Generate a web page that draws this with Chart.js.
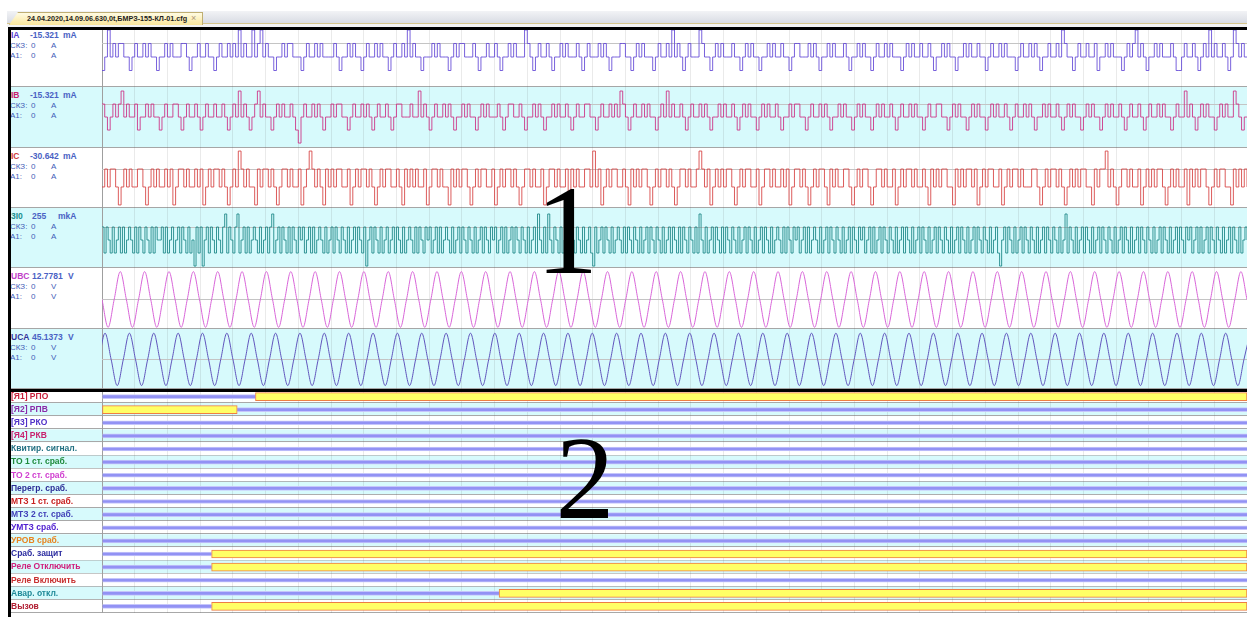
<!DOCTYPE html>
<html>
<head>
<meta charset="utf-8">
<title>24.04.2020,14.09.06.630,0t,БМРЗ-155-КЛ-01.cfg</title>
<script src="https://cdn.jsdelivr.net/npm/chart.js"></script>
<style>
  body { margin: 0; width: 1247px; height: 617px; overflow: hidden; position: relative; background: #fff;
         font-family: "Liberation Sans", Arial, sans-serif; }
  div, canvas { position: absolute; }
  .l1 { font-size: 8.5px; font-weight: bold; line-height: 10px; white-space: pre; z-index: 2; }
  .l2 { font-size: 8px; line-height: 10px; white-space: pre; z-index: 2; }
  .big { font-family: "Liberation Serif", serif; line-height: 1; color: #000; z-index: 10; width: 100px; text-align: center; }
</style>
</head>
<body>
<div style="left:7px;top:11px;width:1240px;height:12px;background:linear-gradient(#f2f3f6,#d9dce4);"></div>
<div style="left:7px;top:23px;width:1240px;height:1px;background:#d6c58c;"></div>
<div style="left:7px;top:24px;width:1240px;height:3px;background:#f3f3f3;"></div>
<div style="left:9px;top:12px;width:192px;height:12px;background:linear-gradient(#fffbe2,#f9e69c);border:1px solid #bfae72;border-bottom:none;clip-path:polygon(9px 0,100% 0,100% 100%,0 100%);"></div>
<div style="left:27px;top:13px;font-size:7.2px;font-weight:bold;line-height:11px;color:#1c1c1c;white-space:pre;">24.04.2020,14.09.06.630,0t,БМРЗ-155-КЛ-01.cfg</div>
<div style="left:191px;top:12px;font-size:9px;line-height:12px;color:#b09878;">×</div>

<div style="left:8px;top:27px;width:1239px;height:3px;background:#000;z-index:9;"></div>
<div style="left:8px;top:27px;width:2.5px;height:590px;background:#000;z-index:9;"></div>
<div style="left:8px;top:389px;width:1239px;height:3px;background:#000;z-index:9;"></div>
<div style="left:102px;top:30px;width:1px;height:360px;background:#a9a9a9;z-index:1;"></div>

<div class="big" style="left:517px;top:168px;font-size:126px;">1</div>
<div class="big" style="left:535px;top:420px;font-size:118px;">2</div>

<script>
const recordLength = 940;   // ms across the plot
const gridDivisions = 35;

const analogNames = ['IA', 'IB', 'IC', '3I0', 'UBC', 'UCA'];
const analogReadings = ['-15.321', '-15.321', '-30.642', '255', '12.7781', '45.1373'];
const analogUnits = ['mA', 'mA', 'mA', 'mkA', 'V', 'V'];
const rmsValues = ['0', '0', '0', '0', '0', '0'];
const a1Values = ['0', '0', '0', '0', '0', '0'];
const rmsUnits = ['A', 'A', 'A', 'A', 'V', 'V'];

// currents in ADC steps, evenly spaced over the record
const iaSteps = [
  -1,0,2,0,1,0,1,1,0,0,-1,0,1,0,0,1,0,1,0,0,
  -1,0,0,1,0,1,0,0,0,1,1,0,-1,0,0,1,0,0,1,0,
  0,-1,0,1,0,0,1,0,1,0,2,0,1,0,0,2,0,1,2,0,
  1,0,0,-1,0,0,1,0,1,1,0,0,0,-1,0,1,0,0,1,0,
  1,0,0,0,0,1,0,-1,0,0,1,0,1,0,0,-1,0,1,0,0,
  1,0,1,0,0,-1,0,1,0,0,1,0,2,0,1,0,0,-1,0,0,
  0,1,0,1,0,0,0,-1,0,1,0,1,1,0,0,0,1,0,-1,0,
  0,1,0,0,1,0,-1,0,0,1,0,1,0,0,0,2,1,0,-1,0,
  1,0,0,1,0,-1,0,0,1,0,1,0,0,0,1,0,-1,0,1,0,
  0,0,1,0,1,0,-1,0,0,0,1,1,0,0,-1,0,1,0,1,0,
  0,0,-1,0,1,0,0,1,0,2,0,1,0,-1,0,1,0,0,0,2,
  1,0,0,-1,0,1,0,1,0,0,0,1,0,0,-1,0,1,0,1,0,
  0,-1,0,0,1,0,1,0,0,1,0,0,-1,0,1,1,0,0,0,1,
  0,1,0,-1,0,0,1,0,1,0,0,0,1,0,-1,0,0,1,0,1,
  0,0,-1,0,1,0,0,1,0,1,0,0,0,-1,0,1,0,1,0,0,
  1,0,0,1,0,-1,0,0,1,0,1,0,0,-1,0,0,1,0,1,0,
  0,1,0,0,-1,0,1,0,0,1,0,1,0,0,0,-1,0,1,0,0,
  1,0,1,0,-1,0,0,1,0,0,1,0,2,1,0,0,-1,0,1,0,
  0,1,0,0,1,-1,0,0,1,0,1,0,0,0,-1,0,1,0,1,2,
  0,1,0,-1,0,0,1,0,1,0,0,0,1,0,-1,-1,0,1,0,0,
  1,0,-1,0,1,0,2,0,1,0,0,1,0,-1,0,2,1,0,1,0,0
];
const ibSteps = [
  1,0,-1,0,1,0,1,2,0,1,0,0,1,-1,0,0,1,0,1,0,
  0,-1,0,1,0,0,1,1,0,-1,0,1,0,0,1,0,-1,0,1,0,
  0,1,0,0,1,0,-1,0,1,0,2,0,1,0,-1,0,1,2,0,1,
  0,0,-1,0,1,0,1,0,0,1,0,-1,-2,0,1,0,0,1,0,1,
  0,-1,0,0,1,0,1,1,0,0,-1,0,1,0,0,1,0,1,0,-1,
  0,1,0,0,1,0,-1,0,1,1,0,0,0,1,0,0,2,0,1,0,
  -1,0,1,0,0,1,0,1,0,-1,0,0,1,0,1,0,0,-1,0,1,
  0,1,0,0,0,1,0,-1,0,1,1,0,0,1,0,-1,0,0,1,0,
  1,0,-1,0,0,1,0,1,0,0,1,0,-1,0,1,0,0,1,1,0,
  0,-1,0,1,0,0,1,0,1,0,2,1,0,-1,0,1,0,0,1,0,
  1,0,0,-1,0,1,0,2,0,1,0,0,1,0,-1,0,1,0,0,1,
  0,1,0,-1,0,0,1,0,1,0,0,1,0,-1,0,1,0,1,0,0,
  -1,0,1,0,1,0,0,1,0,-1,0,0,1,0,1,1,0,0,-1,0,
  1,0,0,1,0,1,0,-1,0,0,1,0,1,0,0,-1,0,1,0,1,
  0,0,-1,0,1,0,1,0,0,1,0,-1,0,1,0,0,1,0,1,0,
  0,-1,0,1,0,0,1,1,0,0,-1,0,1,0,1,0,0,-1,0,1,
  0,1,0,0,-1,0,1,0,1,0,0,1,0,-1,0,1,0,0,1,0,
  1,0,-1,0,0,1,0,1,0,0,1,0,-1,0,1,0,1,0,0,-1,
  0,1,0,1,0,0,-1,0,1,0,1,0,0,1,0,-1,0,1,0,0,
  1,0,-1,0,1,0,0,1,0,1,0,0,-1,0,1,0,0,2,0,1,
  0,-1,0,1,0,1,0,0,-1,0,1,0,1,0,0,2,1,0,-1,0,0
];
const icSteps = [
  0,1,0,1,1,0,-1,0,1,0,1,0,0,1,1,0,-1,0,1,0,
  1,0,0,1,0,1,-1,0,1,1,0,1,0,0,1,0,1,-1,0,1,
  0,1,1,0,1,0,-1,0,1,0,2,1,0,1,0,0,-1,1,0,1,
  1,0,1,0,-1,0,1,1,0,1,0,0,1,-1,0,1,2,1,0,1,
  0,-1,1,0,1,0,1,1,0,0,1,-1,0,1,0,1,1,0,1,0,
  -1,0,1,0,1,1,0,0,1,0,-1,1,0,1,0,1,0,0,1,-1,
  0,1,1,0,1,0,0,-1,1,0,1,0,1,1,0,-1,0,1,0,1,
  1,0,0,1,-1,0,1,0,1,1,0,1,0,-1,0,1,1,0,1,0,
  0,1,-1,0,1,1,0,1,0,0,1,-1,1,0,1,0,0,1,1,0,
  2,0,1,-1,0,1,0,1,1,0,0,1,0,-1,1,0,1,0,1,1,
  0,-1,0,1,0,1,1,0,1,0,-1,0,1,1,0,1,0,0,1,2,
  1,0,1,-1,0,1,0,1,0,1,1,0,-1,0,1,0,1,1,0,0,
  1,-1,0,1,1,0,1,0,0,1,0,1,-1,0,1,1,0,1,0,-1,
  0,1,0,1,1,0,-1,1,0,1,0,0,1,1,0,-1,0,1,0,1,
  1,0,-1,0,1,1,0,1,0,0,1,-1,0,1,0,1,1,0,1,0,
  0,1,0,-1,1,0,1,0,1,1,0,0,-1,1,0,1,0,1,1,0,
  1,-1,0,1,0,1,1,0,0,1,-1,0,1,0,1,1,0,1,0,0,
  0,1,1,0,-1,0,1,0,1,1,0,1,0,-1,0,1,0,1,0,1,
  1,0,0,-1,1,0,1,1,2,0,1,0,-1,0,1,1,0,1,0,0,
  1,-1,0,1,0,1,0,1,1,0,-1,0,1,0,1,0,0,1,-1,1,
  0,1,0,1,1,0,-1,0,1,0,1,1,0,0,-1,1,0,1,0,1,0
];
const i0Steps = [
  1,-1,1,0,-1,1,-1,0,1,-1,1,-1,0,1,0,-1,1,-1,1,0,
  -1,1,0,-1,1,-1,1,0,0,1,-1,1,-1,0,1,-1,0,1,-1,1,
  0,-1,1,-1,0,-2,1,-1,1,-2,0,1,-1,1,0,-1,1,0,-1,1,
  2,-1,1,0,-1,1,2,-1,0,1,-1,1,-1,0,1,0,-1,1,-1,0,
  1,-1,1,2,-1,0,1,-1,1,0,-1,1,-1,1,0,-1,1,0,1,-1,
  0,1,-1,1,-1,0,1,0,-1,1,-1,0,1,-1,1,0,-1,1,0,-1,
  1,-1,0,1,-1,1,0,-1,1,-2,0,1,-1,1,0,-1,1,-1,0,1,
  -1,0,1,-1,1,0,-1,1,-1,0,1,0,-1,1,-1,1,0,-1,1,0,
  1,-1,0,1,-1,1,-1,0,1,0,-1,1,-1,0,1,-1,1,0,-1,1,
  0,-1,1,-1,0,1,-1,1,0,-1,1,0,1,-1,0,1,-1,1,-1,0,
  1,-1,1,0,-1,1,0,-1,1,-1,0,1,-1,2,0,-1,1,-1,2,0,
  -1,1,0,-1,1,-1,0,1,-1,1,0,-1,1,0,-1,1,-1,0,1,-1,
  -2,1,-1,0,1,-1,1,0,-1,1,-1,0,1,0,-1,1,-1,1,0,-1,
  1,0,-1,1,-1,0,1,-1,1,0,-1,1,0,-1,1,-1,0,1,-1,1,
  0,-1,1,-1,1,0,-1,1,0,-1,1,-1,2,0,-1,1,-1,0,1,-1,
  1,0,-1,1,-1,1,0,-1,1,0,-1,1,-1,0,1,-1,1,0,-1,1,
  -1,0,1,-1,1,0,-1,1,-1,0,1,0,-1,1,-1,1,0,-1,1,0,
  1,-1,0,1,-1,1,-1,0,1,0,-1,1,-1,0,1,-1,1,0,-1,1,
  0,-1,1,-1,0,1,-1,1,0,-1,1,0,1,-1,0,1,-1,1,-1,0,
  1,-1,1,0,-1,1,0,-1,1,-1,0,1,-1,1,0,-1,1,-1,0,1,
  -1,1,0,-1,1,-1,0,1,-1,1,0,-1,1,0,-1,1,-1,0,1,-1,
  1,0,-1,1,-1,0,1,-1,1,0,-1,1,0,-1,1,-1,0,1,-1,-2,
  0,1,-1,1,0,-1,1,-1,0,1,-1,1,0,-1,1,0,-1,1,-1,0,
  1,-1,1,0,-1,1,0,-1,1,-1,0,2,-1,1,0,-1,1,-1,0,1,
  -1,1,0,-1,1,-1,0,1,-1,1,0,-1,1,0,-1,1,-1,0,1,-1,
  1,0,-1,1,-1,0,1,-1,1,0,-1,1,0,-1,1,-1,0,1,-1,1,
  0,-1,1,-1,0,1,-1,1,0,-1,1,0,1,-1,0,1,-1,1,-1,0,
  1,-1,1,0,-1,1,0,-1,1,-1,0,1,-1,1,0,-1,1,-1,0,1,0
];

// voltages, one sample per quarter period
const sineStep = 5;
const ubcStart = 0;
const ubcValues = [
  0,-1,0,1,0,-1,0,1,0,-1,0,1,0,-1,0,1,0,-1,0,1,0,-1,0,1,0,-1,0,1,0,-1,0,1,0,-1,0,1,0,-1,0,1,
  0,-1,0,1,0,-1,0,1,0,-1,0,1,0,-1,0,1,0,-1,0,1,0,-1,0,1,0,-1,0,1,0,-1,0,1,0,-1,0,1,0,-1,0,1,
  0,-1,0,1,0,-1,0,1,0,-1,0,1,0,-1,0,1,0,-1,0,1,0,-1,0,1,0,-1,0,1,0,-1,0,1,0,-1,0,1,0,-1,0,1,
  0,-1,0,1,0,-1,0,1,0,-1,0,1,0,-1,0,1,0,-1,0,1,0,-1,0,1,0,-1,0,1,0,-1,0,1,0,-1,0,1,0,-1,0,1,
  0,-1,0,1,0,-1,0,1,0,-1,0,1,0,-1,0,1,0,-1,0,1,0,-1,0,1,0,-1,0,1,0
];
const ucaStart = -2.5;
const ucaValues = [
  0,1,0,-1,0,1,0,-1,0,1,0,-1,0,1,0,-1,0,1,0,-1,0,1,0,-1,0,1,0,-1,0,1,0,-1,0,1,0,-1,0,1,0,-1,
  0,1,0,-1,0,1,0,-1,0,1,0,-1,0,1,0,-1,0,1,0,-1,0,1,0,-1,0,1,0,-1,0,1,0,-1,0,1,0,-1,0,1,0,-1,
  0,1,0,-1,0,1,0,-1,0,1,0,-1,0,1,0,-1,0,1,0,-1,0,1,0,-1,0,1,0,-1,0,1,0,-1,0,1,0,-1,0,1,0,-1,
  0,1,0,-1,0,1,0,-1,0,1,0,-1,0,1,0,-1,0,1,0,-1,0,1,0,-1,0,1,0,-1,0,1,0,-1,0,1,0,-1,0,1,0,-1,
  0,1,0,-1,0,1,0,-1,0,1,0,-1,0,1,0,-1,0,1,0,-1,0,1,0,-1,0,1,0,-1,0,1
];

// discrete signals: time (ms) the signal is set, and released (null = never set)
const signalNames = ['[Я1] РПО', '[Я2] РПВ', '[Я3] РКО', '[Я4] РКВ', 'Квитир. сигнал.', 'ТО 1 ст. сраб.',
  'ТО 2 ст. сраб.', 'Перегр. сраб.', 'МТЗ 1 ст. сраб.', 'МТЗ 2 ст. сраб.', 'УМТЗ сраб.', 'УРОВ сраб.',
  'Сраб. защит', 'Реле Отключить', 'Реле Включить', 'Авар. откл.', 'Вызов'];
const onFrom = [126, 0, null, null, null, null, null, null, null, null, null, null, 90, 90, null, 326, 90];
const onTo = [940, 111, null, null, null, null, null, null, null, null, null, null, 940, 940, null, 940, 940];

// look
const cyan = '#d7fafc';
const rowTops = [27, 87, 148, 208, 268, 329, 389];
const yRanges = [[-2.22, 2.22], [-2.38, 2.31], [-1.17, 2.17], [-2.15, 2.46], [-1.06, 1.13], [-1.13, 1.16]];
const levelLines = [1, 1, 1, 1, 0, 0];
const traceColors = ['rgba(98,70,214,0.85)', 'rgba(204,44,130,0.85)', 'rgba(214,64,64,0.85)', 'rgba(22,132,132,0.85)', '#d864d8', '#6054bc'];
const nameColors = ['#5b3fd0', '#c8206e', '#d03a3a', '#209090', '#c040c8', '#34349a'];
const readingX = [30, 30, 30, 32, 32, 32];
const unitX = [63, 63, 63, 58, 68, 68];
const signalColors = ['#c8203c', '#8a2aa8', '#5030c8', '#c8206e', '#1f6f80', '#1f8a3c', '#d040d0', '#2c2c96',
  '#c82020', '#4040b8', '#5020d0', '#e88420', '#2c2ca0', '#d0207c', '#c83030', '#1f8a98', '#b01c30'];

Chart.defaults.font.family = '"Liberation Sans", Arial, sans-serif';

const divisionTicks = scale => {
  scale.ticks = Array.from({ length: gridDivisions + 1 }, (_, k) => ({ value: k * recordLength / gridDivisions }));
};

function put(cls, css, text) {
  const d = document.createElement('div');
  d.className = cls;
  Object.assign(d.style, css);
  if (text != null) d.textContent = text;
  document.body.appendChild(d);
  return d;
}

const evenly = arr => arr.map((v, i) => ({ x: i * recordLength / (arr.length - 1), y: v }));
const quarterPeriods = (arr, t0) => arr.map((v, i) => ({ x: t0 + i * sineStep, y: v }));

const series = [
  evenly(iaSteps), evenly(ibSteps), evenly(icSteps), evenly(i0Steps),
  quarterPeriods(ubcValues, ubcStart), quarterPeriods(ucaValues, ucaStart)
];

analogNames.forEach((name, i) => {
  const top = rowTops[i];
  const h = rowTops[i + 1] - top;
  put('', { left: '10px', top: top + 'px', width: '1237px', height: h + 'px', background: i % 2 ? cyan : '#fff', zIndex: 0 });
  put('', { left: '10px', top: (rowTops[i + 1] - 1) + 'px', width: '1237px', height: '1px', background: '#a6a6a6', zIndex: 1 });

  put('l1', { left: '11px', top: (top + 3) + 'px', color: nameColors[i] }, name);
  put('l1', { left: readingX[i] + 'px', top: (top + 3) + 'px', color: '#4a62c4' }, analogReadings[i]);
  put('l1', { left: unitX[i] + 'px', top: (top + 3) + 'px', color: '#4a62c4' }, analogUnits[i]);
  put('l2', { left: '10px', top: (top + 14) + 'px', color: '#3f5cb8' }, 'СКЗ:');
  put('l2', { left: '31px', top: (top + 14) + 'px', color: '#3f5cb8' }, rmsValues[i]);
  put('l2', { left: '51px', top: (top + 14) + 'px', color: '#3f5cb8' }, rmsUnits[i]);
  put('l2', { left: '10px', top: (top + 24) + 'px', color: '#3f5cb8' }, 'А1:');
  put('l2', { left: '31px', top: (top + 24) + 'px', color: '#3f5cb8' }, a1Values[i]);
  put('l2', { left: '51px', top: (top + 24) + 'px', color: '#3f5cb8' }, rmsUnits[i]);

  const cv = document.createElement('canvas');
  cv.width = 1145;
  cv.height = h;
  Object.assign(cv.style, { left: '102px', top: top + 'px', zIndex: 3 });
  document.body.appendChild(cv);

  const stepped = i < 4;
  new Chart(cv, {
    type: 'line',
    data: {
      datasets: [{
        data: series[i],
        borderColor: traceColors[i],
        borderWidth: 1,
        pointRadius: 0,
        fill: false,
        stepped: stepped,
        cubicInterpolationMode: stepped ? 'default' : 'monotone'
      }]
    },
    options: {
      responsive: false,
      animation: false,
      events: [],
      devicePixelRatio: 1,
      layout: { padding: 0 },
      plugins: { legend: { display: false }, tooltip: { enabled: false } },
      scales: {
        x: {
          type: 'linear', min: 0, max: recordLength,
          ticks: { display: false },
          grid: { color: 'rgba(90,90,90,0.13)', drawTicks: false },
          border: { display: false },
          afterBuildTicks: divisionTicks
        },
        y: {
          min: yRanges[i][0], max: yRanges[i][1],
          ticks: { display: false },
          grid: { color: '#c4c4c4', drawTicks: false },
          border: { display: false },
          afterBuildTicks: s => { s.ticks = [{ value: levelLines[i] }]; }
        }
      }
    }
  });
});

// discrete part
const offBefore = signalNames.map((_, i) => onFrom[i] === null ? [0, recordLength] : (onFrom[i] > 0 ? [0, onFrom[i]] : null));
const offAfter = signalNames.map((_, i) => onFrom[i] !== null && onTo[i] < recordLength ? [onTo[i], recordLength] : null);
const onBars = signalNames.map((_, i) => onFrom[i] === null ? null : [onFrom[i], onTo[i]]);

const rowStripes = {
  id: 'rowStripes',
  beforeDraw(chart) {
    const { ctx, chartArea } = chart;
    const y = chart.scales.y;
    const h = y.height / signalNames.length;
    signalNames.forEach((_, i) => {
      const yc = y.getPixelForValue(i);
      ctx.fillStyle = i % 2 ? cyan : '#fff';
      ctx.fillRect(0, yc - h / 2, chart.width, h);
      ctx.fillStyle = '#a8a8a8';
      ctx.fillRect(0, Math.round(yc + h / 2) - 1, chart.width, 1);
    });
    ctx.fillStyle = '#a9a9a9';
    ctx.fillRect(chartArea.left, 0, 1, chart.height);
  }
};

const dcv = document.createElement('canvas');
dcv.width = 1236;
dcv.height = 223;
Object.assign(dcv.style, { left: '11px', top: '390px', zIndex: 3 });
document.body.appendChild(dcv);

const offStyle = {
  backgroundColor: '#9292f4',
  borderColor: '#c6c6fb',
  borderWidth: { top: 1, bottom: 1, left: 0, right: 0 },
  borderSkipped: false,
  barThickness: 4,
  grouped: false
};

new Chart(dcv, {
  type: 'bar',
  data: {
    labels: signalNames,
    datasets: [
      { data: onBars, backgroundColor: '#ffff66', borderColor: '#ee7e44', borderWidth: 1,
        borderSkipped: false, barThickness: 8, grouped: false },
      Object.assign({ data: offBefore }, offStyle),
      Object.assign({ data: offAfter }, offStyle)
    ]
  },
  options: {
    indexAxis: 'y',
    responsive: false,
    animation: false,
    events: [],
    devicePixelRatio: 1,
    layout: { padding: 0 },
    plugins: { legend: { display: false }, tooltip: { enabled: false } },
    scales: {
      x: {
        type: 'linear', min: 0, max: recordLength,
        ticks: { display: false },
        grid: { color: 'rgba(90,90,90,0.13)', drawTicks: false },
        border: { display: false },
        afterBuildTicks: divisionTicks,
        afterFit: s => { s.height = 0; s.paddingLeft = 0; s.paddingRight = 0; }
      },
      y: {
        type: 'category',
        grid: { display: false },
        border: { display: false },
        ticks: {
          autoSkip: false,
          crossAlign: 'far',
          padding: 0,
          font: { size: 8.5, weight: 'bold' },
          color: c => signalColors[c.index]
        },
        afterFit: s => { s.width = 91; s.paddingTop = 0; s.paddingBottom = 0; }
      }
    }
  },
  plugins: [rowStripes]
});
</script>
</body>
</html>
